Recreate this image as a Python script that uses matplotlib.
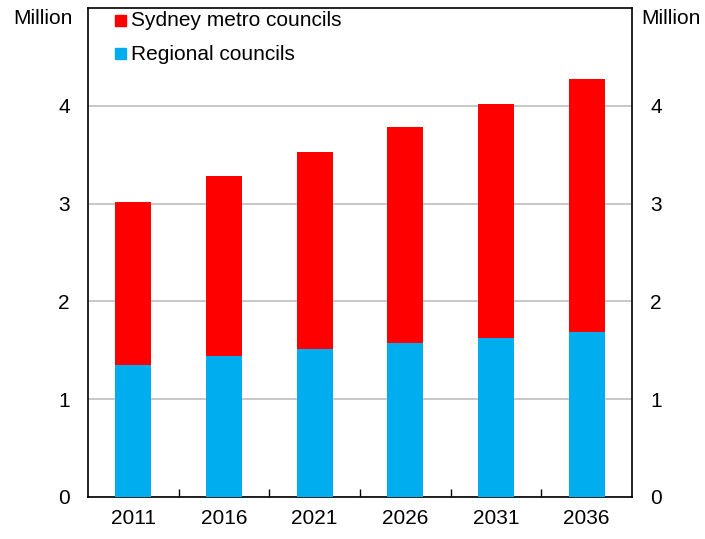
import matplotlib.pyplot as plt
import numpy as np

plt.rcParams['font.family'] = ['Liberation Sans', 'DejaVu Sans']

years = ['2011', '2016', '2021', '2026', '2031', '2036']
regional = [1.35, 1.44, 1.51, 1.57, 1.63, 1.69]
total = [3.02, 3.28, 3.53, 3.78, 4.02, 4.27]
sydney = [t - r for t, r in zip(total, regional)]

red = '#ff0000'
blue = '#00aeef'

fig = plt.figure(figsize=(7.05, 5.39), dpi=100)
ax = fig.add_axes([88 / 705, 42 / 539, 544 / 705, 489 / 539])

x = np.arange(len(years))
ax.bar(x, regional, width=0.4, color=blue, zorder=3)
ax.bar(x, sydney, width=0.4, bottom=regional, color=red, zorder=3)

ax.set_xlim(-0.5, 5.5)
ax.set_ylim(0, 5)
ax.set_yticks([0, 1, 2, 3, 4])
ax.yaxis.grid(True, color='#bfbfbf', lw=1.2, zorder=1)
ax.tick_params(axis='y', length=0, labelsize=15, pad=13,
               labelright=True, right=False)
ax.set_xticks(x)
ax.set_xticklabels(years)
ax.tick_params(axis='x', length=0, labelsize=15, pad=9)
ax.set_xticks(np.arange(0.5, 5.5, 1), minor=True)
ax.tick_params(axis='x', which='minor', direction='in', length=6, width=1)
for s in ax.spines.values():
    s.set_linewidth(1.2)

fig.text(13 / 705, 1 - 19 / 539, 'Million', fontsize=15, va='center', ha='left')
fig.text(641 / 705, 1 - 19 / 539, 'Million', fontsize=15, va='center', ha='left')

# legend drawn as squares + text
fig.patches.append(plt.Rectangle((115 / 705, 1 - 26 / 539), 11 / 705, 11 / 539,
                                 color=red, transform=fig.transFigure))
fig.patches.append(plt.Rectangle((115 / 705, 1 - 59 / 539), 11 / 705, 11 / 539,
                                 color=blue, transform=fig.transFigure))
fig.text(131 / 705, 1 - 21 / 539, 'Sydney metro councils', fontsize=15, va='center')
fig.text(131 / 705, 1 - 54 / 539, 'Regional councils', fontsize=15, va='center')

fig.savefig('out.png', dpi=100)
